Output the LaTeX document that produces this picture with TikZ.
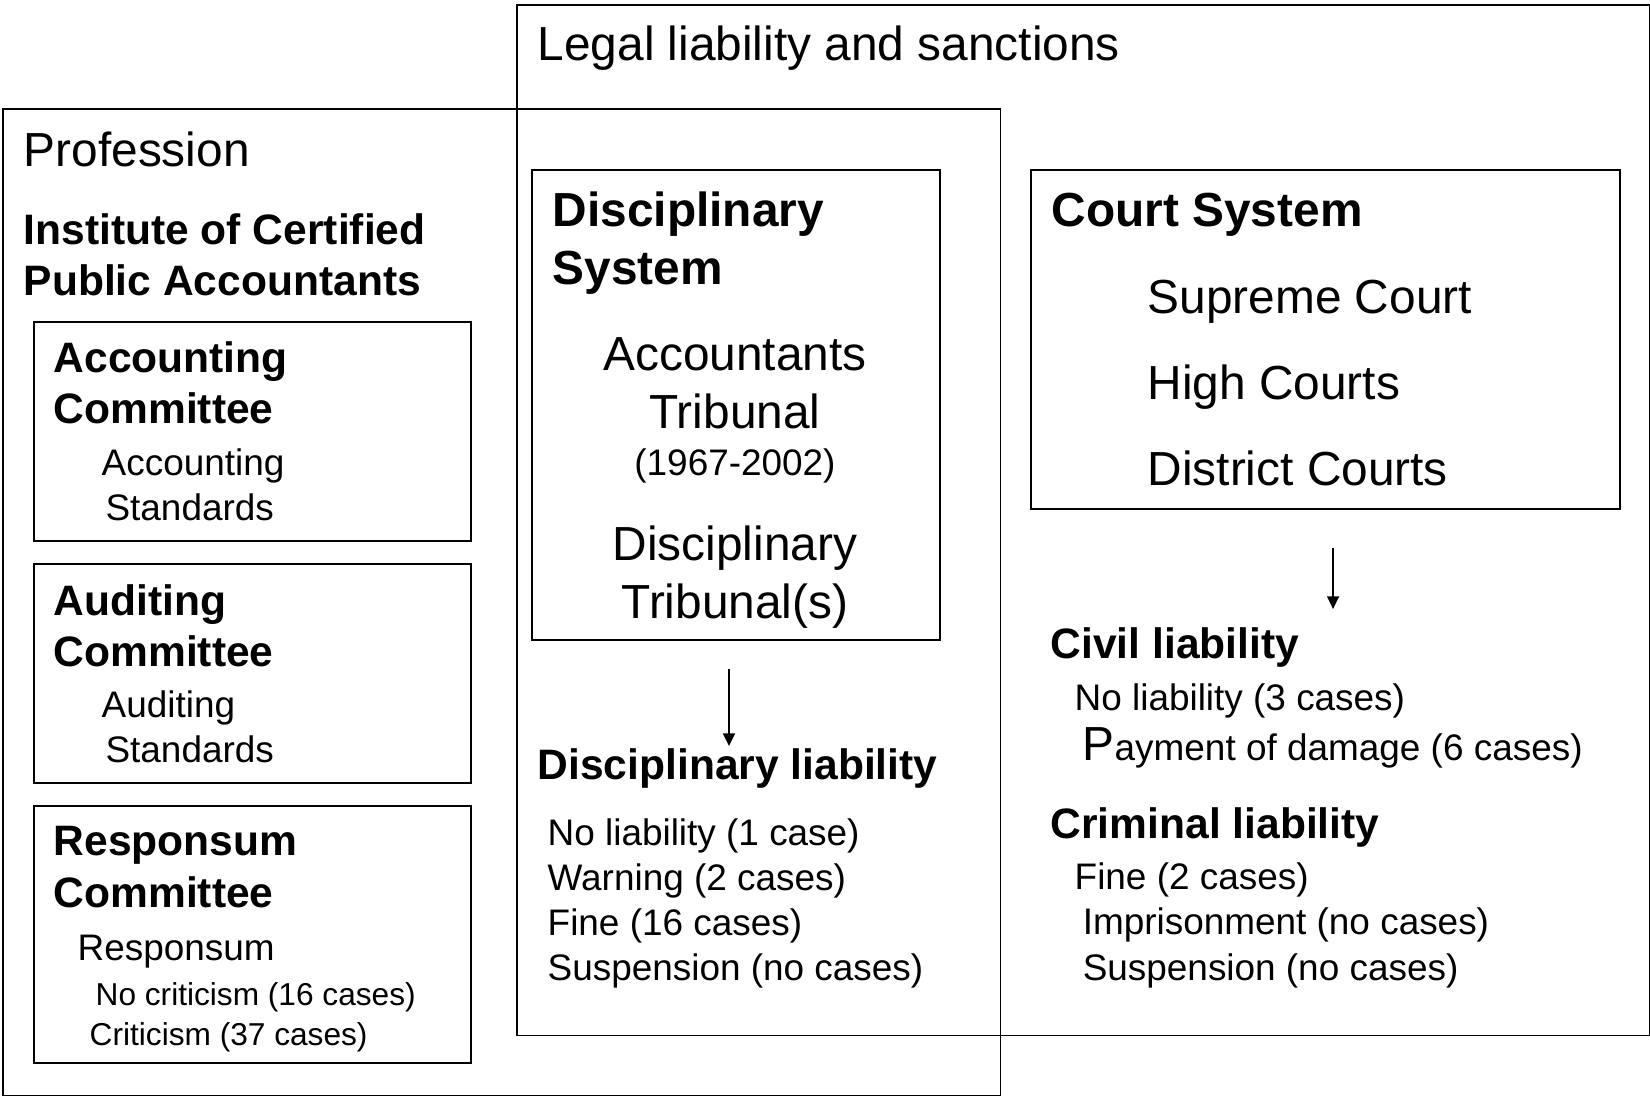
\documentclass[tikz,border=0pt]{standalone}
\usepackage{fontspec}
\setmainfont{Liberation Sans}
\usetikzlibrary{arrows.meta}
\tikzset{
    frame/.style={draw, line width=0.5pt, inner sep=0pt, anchor=north west},
    txt/.style={inner sep=0pt, anchor=base west, align=left},
    mid/.style={inner sep=0pt, anchor=base, align=center},
    big/.style={font=\fontsize{13.6}{16.5}\selectfont},
    bigb/.style={font=\fontsize{13.6}{16.5}\selectfont\bfseries},
    midb/.style={font=\fontsize{12.1}{14.7}\selectfont\bfseries},
    small/.style={font=\fontsize{10.5}{12.8}\selectfont},
    tiny/.style={font=\fontsize{9}{11.3}\selectfont},
    arr/.style={-{Triangle[length=3.6pt,width=3.4pt]}, line width=0.5pt},
  }
\begin{document}
\begin{tikzpicture}[x=0.01cm,y=-0.01cm]
				  \useasboundingbox (0,0) rectangle (1650,1097);
				  %FRAMES
				  \node[frame, minimum width=11.32cm, minimum height=10.30cm] (legal) at (516,4) {};
				  \node[frame, minimum width=9.97cm, minimum height=9.86cm] (prof) at (2,108) {};
				  \node[frame, minimum width=4.08cm, minimum height=4.70cm] (disc) at (531,169) {};
				  \node[frame, minimum width=5.89cm, minimum height=3.39cm] (court) at (1030,169) {};
				  \node[frame, minimum width=4.37cm, minimum height=2.19cm] (acc) at (33,321) {};
				  \node[frame, minimum width=4.37cm, minimum height=2.19cm] (aud) at (33,563) {};
				  \node[frame, minimum width=4.37cm, minimum height=2.57cm] (resp) at (33,805) {};
				  %TITLES (multi-line nodes sit on their last line)
				  \node[txt,big] (legaltitle) at (537,61) {Legal liability and sanctions};
				  \node[txt,big] (proftitle) at (23,167) {Profession};
				  \node[txt,midb] (icpa) at (23,296) {Institute of Certified\\Public Accountants};
				  %COMMITTEES
				  \node[txt,midb] (acctitle) at (53,424) {Accounting\\Committee};
				  \node[txt,small] (accstd) at (101,521) {Accounting\\\hspace*{1.1pt}Standards};
				  \node[txt,midb] (audtitle) at (53,667) {Auditing\\Committee};
				  \node[txt,small] (audstd) at (101,763) {Auditing\\\hspace*{1.1pt}Standards};
				  \node[txt,midb] (resptitle) at (53,907) {Responsum\\Committee};
				  \node[txt,small] (respsum) at (77,960) {Responsum};
				  \node[txt,tiny] (crit) at (89,1045) {\hspace*{1.7pt}No criticism (16 cases)\\Criticism (37 cases)};
				  %DISCIPLINARY SYSTEM
				  \node[txt,bigb] (disctitle) at (552,285) {Disciplinary\\System};
				  \node[mid,big] (acctrib) at (735,429) {Accountants\\Tribunal};
				  \node[mid,small] (years) at (735,476) {(1967-2002)};
				  \node[mid,big] (disctrib) at (735,619) {Disciplinary\\Tribunal(s)};
				  \node[txt,midb] (dliab) at (537,780) {Disciplinary liability};
				  \node[txt,small] (dcases) at (547,981) {No liability (1 case)\\Warning (2 cases)\\Fine (16 cases)\\Suspension (no cases)};
				  \draw[arr] ([xshift=-0.07cm,yshift=-0.28cm]disc.south) -- ++(0,77);
				  %COURT SYSTEM
				  \node[txt,bigb] (courttitle) at (1051,227) {Court System};
				  \node[txt,big] (courts) at (1147,486) {Supreme Court\\[8pt]High Courts\\[8pt]District Courts};
				  \node[txt,midb] (civ) at (1050,659) {Civil liability};
				  \node[txt,small] (civcases) at (1074,761) {No liability (3 cases)\\[1.7pt]\hspace*{2.3pt}{\fontsize{13.6}{12.8}\selectfont P}ayment of damage (6 cases)};
				  \node[txt,midb] (crim) at (1050,838) {Criminal liability};
				  \node[txt,small] (crimcases) at (1074,980) {Fine (2 cases)\\\hspace*{2.3pt}Imprisonment (no cases)\\\hspace*{2.3pt}Suspension (no cases)};
				  \draw[arr] ([xshift=0.075cm,yshift=-0.38cm]court.south) -- ++(0,61);
\end{tikzpicture}
\end{document}
